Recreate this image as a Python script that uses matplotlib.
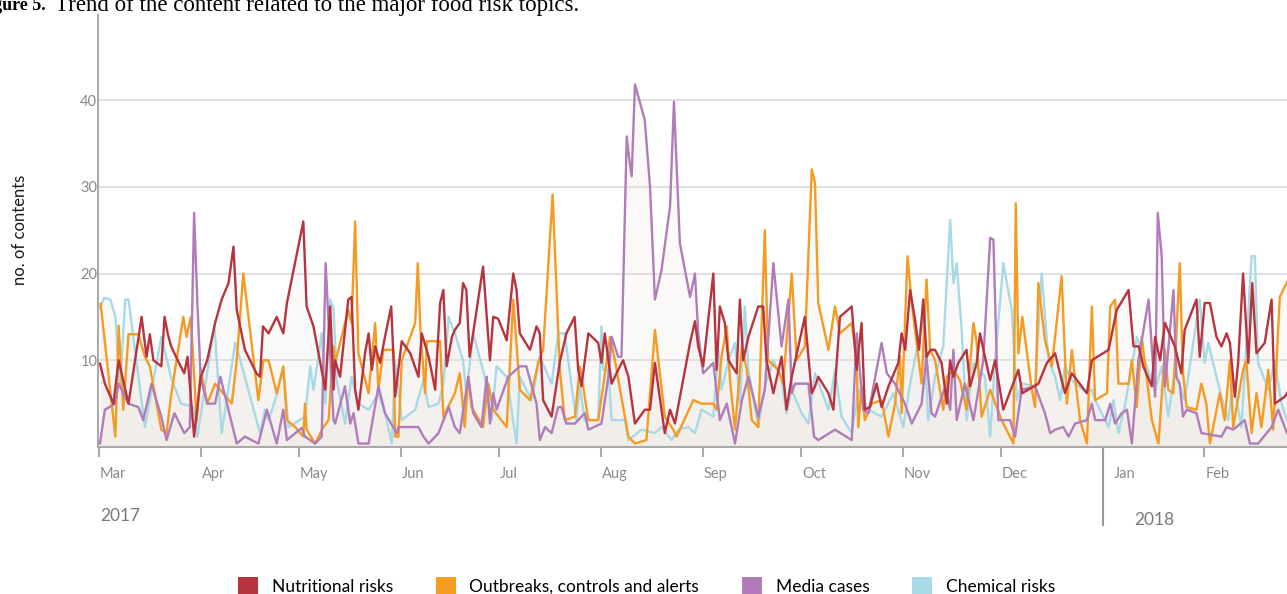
import numpy as np
import pandas as pd
import matplotlib
matplotlib.use("Agg")
import matplotlib.pyplot as plt
import matplotlib.dates as mdates
import matplotlib.transforms as mtransforms
from matplotlib.patches import Patch

plt.rcParams['font.family'] = ['Lato', 'DejaVu Sans']

# days since 2017-03-01
nutr_days = [0.3, 1.8, 4.4, 6, 9, 13, 14.5, 15.5, 16.6, 19, 20, 21, 22, 24, 26, 27, 29, 31, 33,
             35.4, 37.4, 39.5, 41, 42, 44.5, 48, 49.1, 50, 51.7, 54.2, 56.2, 57.3, 62.3, 63.3, 65.4,
             69, 70.5, 71.5, 72, 73.5, 76, 77, 78.1, 79.1, 81.1, 82.2, 83.2, 84.2, 85.7, 87.2, 89.1,
             90.3, 92.3, 94.9, 97.4, 98.4, 100.5, 102.5, 104, 105, 106, 107.6, 108.5, 110, 111, 112,
             113, 117.1, 119.2, 120.2, 121.7, 124.3, 126.3, 127.3, 128.3, 131.4, 133.4, 134.4, 135.4,
             138, 140.5, 142.5, 145, 146.1, 147.1, 149.2, 152.2, 153.2, 154.2, 156.3, 158.3, 159.8,
             161.4, 163.4, 166.4, 168, 169.5, 172.5, 174.1, 175.6, 180.2, 181.7, 182.7, 184.2, 187.3,
             188.3, 189.3, 190.8, 191.9, 194.4, 195.4, 196.4, 198, 201, 202.5, 203.5, 205.6, 208.1,
             209.6, 211.2, 215.2, 217.3, 218.3, 219.3, 222.4, 223.9, 225.9, 229.5, 231, 232.5, 233.5,
             235, 237.1, 238.6, 240.7, 243.7, 244.7, 245.8, 247.3, 248.8, 250, 251.3, 252.3, 253.5,
             254.9, 256.9, 258.5, 259.5, 260.5, 262, 264.5, 265.6, 267.6, 268.6, 270.1, 271.7, 273.2,
             275.7, 280.3, 281.5, 286.4, 289, 291.5, 294.5, 296.6, 301.2, 302.7, 307.8, 310.3, 313.9,
             315.4, 317, 318.4, 321, 322, 323.5, 325, 328, 330, 331, 334.6, 335.6, 337.1, 338.7, 340.7,
             342.2, 343.8, 344.8, 346.3, 347.3, 348.8, 350.4, 351.6, 352.9, 355.4, 357.5, 358.5, 361.5,
             362.2]
nutr_vals = [9.6, 7.3, 5, 10, 5, 15, 10.4, 13, 10, 9.3, 15, 13, 11.6, 10, 8.5, 10.4, 1.2, 8, 10,
             14.3, 17, 18.9, 23.1, 15.8, 11.2, 8.5, 8.1, 13.9, 13.1, 15, 13.1, 16.6, 26, 16.2, 13.9,
             6.6, 16.2, 6.6, 10, 8.1, 17, 17.3, 6.6, 4.3, 10.8, 13.1, 8.9, 11.6, 9.7, 12.7, 16.2,
             5.8, 12.2, 10.8, 8.1, 13.1, 10.4, 6.6, 16.6, 18.1, 9.3, 12.7, 13.5, 14.3, 18.9, 18.1,
             10.4, 20.8, 10, 15, 14.8, 12.3, 20, 18.1, 13.1, 11.2, 13.9, 13.1, 5.4,
             3.5, 9.8, 13.1, 15, 8.9, 7, 13.1, 12, 9.7, 13.1, 7.3, 8.9, 10,
             8.1, 2.7, 4.3, 4.3, 9.7, 1.6, 4.3, 2.7, 12, 14.5, 11.6, 9.3, 20,
             8.9, 16.2, 14.3, 10, 8.5, 17, 10, 12.7, 16.2, 16.2, 10, 6.2, 10.4,
             4.3, 8.1, 15, 6.2, 7, 8.1, 6.2, 4.3, 15, 16.2, 8.9, 14.3, 4.3,
             4.6, 7.3, 4.6, 7, 9.7, 13.1, 11.2, 18.1, 14.7, 11.2, 17, 10.4, 11.2,
             11.2, 9.7, 5, 10, 8.1, 9.7, 11.2, 7, 9.7, 13.1, 10.4, 7.7, 10,
             4.3, 8.9, 6.2, 7.3, 9.7, 10.8, 6.2, 8.5, 6.2, 10, 11.2, 15.8, 18.1,
             11.6, 11.6, 9.3, 7, 12.7, 10, 14.3, 11.6, 8.5, 13.5, 17, 10.4, 16.6, 16.6, 12.7,
             11.6, 13.1, 12, 5.8, 9.7, 20, 9.7, 18.9, 10.8, 12, 17, 5, 5.8,
             6.2]

outb_days = [0.5, 5, 6, 7.4, 9, 12, 14, 15.5, 19, 20.6, 22, 25.7, 26.7, 28, 29.8, 31, 33, 35.4,
             40.5, 42, 44, 48.6, 50.1, 51.7, 54.2, 56.2, 57.3, 59.8, 62.3, 62.8, 63.3, 65.9, 68.4,
             70, 71.5, 72, 76, 77, 78.1, 79.1, 82.2, 84.2, 85.2, 86.7, 89.8, 90.3, 91.3, 92.3, 96.4,
             97.2, 98, 99.4, 100, 104, 105, 108.5, 110, 111.5, 112.6, 113.6, 117.1, 118.7, 120.2,
             124.3, 126.3, 128.3, 131.4, 133.9, 135.4, 138.3, 140.5, 142, 145.1, 146.6, 147.6, 149.2,
             152.2, 153.7, 155.8, 157.3, 161.4, 163.4, 166.9, 169.5, 172.5, 175.1, 176.1, 181.2,
             183.7, 187.3, 188.3, 189.8, 191.4, 192.4, 193.9, 196, 197.5, 199, 201, 203, 204, 207.1,
             208.6, 211.2, 212.7, 215.2, 217.3, 218.3, 219.3, 222.4, 224.4, 225.9, 229.5, 231, 231.5,
             232.5, 233.5, 235.6, 238.6, 240.7, 242.7, 244.2, 244.7, 246.5, 247.8, 250.8, 252.3,
             253.4, 254.9, 257.4, 258.5, 260.5, 262.5, 264.5, 266.6, 267.6, 269.1, 271.7, 275.2,
             278.8, 279.5, 280.3, 281.5, 284.4, 285.4, 286.4, 288.4, 290.5, 293.5, 295.1, 296.6,
             299.1, 301.2, 302.7, 303.7, 307.3, 308.3, 309.8, 310.8, 313.9, 314.9, 316.4, 317.9, 321,
             323, 325, 326, 327.5, 328.3, 329.5, 330.5, 331.6, 334.6, 336.1, 337.6, 338.7, 341.7,
             343.2, 344.8, 345.8, 348.8, 349.8, 351.4, 352.9, 354.4, 356.5, 358, 360, 362.2]
outb_vals = [16.5, 1.2, 14, 4.3, 13, 13, 10.4, 9.3, 2, 1.6, 6, 15, 12.7, 15, 3, 9, 5, 7.3,
             5, 10, 20, 5.4, 10, 10, 6.2, 9.3, 3.1, 2.3, 1.2, 5, 2, 0.4, 2.3,
             3.1, 11.6, 9.7, 15.8, 14.3, 26, 10.8, 6.2, 14.3, 6.6, 11.2, 11.2, 1.2, 1.2, 10, 14.3,
             21.2, 13.5, 6.2, 12.2, 12.2, 3.5, 6.2, 8.5, 2.3, 8.1, 4.6, 2.3, 7.3, 4.3,
             2.3, 17, 6.6, 5.4, 9.7, 11.2, 29.1, 8.9, 3.1, 3.5, 9.3, 7, 3.1,
             3.1, 7, 12.7, 10, 1.2, 0.4, 0.8, 13.5, 3.5, 2, 1.2, 5.4,
             5, 5, 4.3, 10.4, 13.9, 7.7, 2, 11.6, 8.9, 3.1, 2.3, 25, 10, 8.9,
             7.3, 20, 10, 11.6, 32, 30.4, 16.6, 11.2, 16.2, 13.1, 14.3, 10, 2.3,
             7, 3.1, 5, 5.4, 1.2, 5, 10.4, 3.9, 22, 16.6, 7.3, 19.3,
             11.2, 10, 4.3, 8.1, 8.9, 7.7, 4.3, 14.3, 12, 3.5, 6.6, 3.1,
             0.4, 28.1, 10.8, 15, 6.6, 4.6, 18.9, 12.3, 9.3, 19.7, 5, 11.2,
             3.1, 0.4, 16.2, 5.4, 6.2, 16.2, 17, 7.3, 7.3, 10, 4.6, 12.7, 3.1,
             0.4, 11.2, 6.6, 6.2, 11.6, 21.2, 8.5, 4.6, 4.3, 7.3, 5, 0.4, 6.2,
             3.1, 10, 2.3, 8.9, 10, 1.6, 6.2, 2.3, 8.9, 2, 17.3, 19]

media_days = [0.3, 1.8, 4.9, 6, 9, 12, 13.5, 16, 19, 20.6, 23, 26, 27.7, 29, 30, 31, 33, 35.4,
              37, 42, 44.5, 48.6, 51.2, 54.2, 56.2, 57.3, 61.8, 62.8, 65.9, 67.9, 69.1, 70, 71.5,
              72, 75, 76.6, 77.6, 79.1, 82.2, 85.2, 87.2, 90.8, 91.3, 97.4, 98.9, 100.5, 103.5,
              106.6, 108.5, 110, 112.6, 114.1, 116.6, 118.2, 119.2, 120.2, 121.2, 124.8, 128.3,
              130.3, 133.4, 134.4, 136, 138, 140, 141, 142.5, 145.1, 148.1, 149.2, 153.2, 155.3,
              156.3, 158.3, 159.3, 160.9, 161.7, 162.4, 163.4, 166.4, 168, 169.5, 171.5, 174.1,
              175.3, 177.1, 180.2, 181.7, 182.7, 184.2, 187.3, 189.3, 191.4, 193.9, 196, 198, 201,
              203, 205.6, 208.1, 210.2, 211.2, 212.2, 216.3, 218, 219.3, 224.4, 229.5, 231, 233,
              234.6, 238.6, 240.2, 242.7, 245.7, 247.8, 250.8, 252.3, 253.8, 254.9, 258, 259.5,
              260.5, 261.5, 264, 266.6, 269.6, 271.7, 272.7, 274.2, 277.8, 279.3, 281.3, 285.4,
              288.4, 290, 291.5, 294, 295.6, 297.6, 301.2, 302.7, 303.7, 306.8, 308.3, 309.8,
              311.8, 313.4, 314.9, 316.9, 320, 322, 322.8, 324, 325, 327.6, 328.5, 329.5, 330.5,
              331.6, 334.6, 336.1, 342.2, 343.8, 345.8, 349.3, 350.9, 353.4, 357.5, 359.5, 362.2]
media_vals = [0.4, 4.3, 5, 7.3, 5, 4.6, 3.1, 7.3, 3.5, 0.8, 3.9, 1.6, 2.3, 27, 16.6, 8, 5, 5,
              8.1, 0.4, 1.2, 0.4, 4.3, 0.4, 4.3, 0.8, 2.2, 1.2, 0.4, 1.2, 21.2, 14.3, 3.1,
              2.7, 7, 2.7, 3.9, 0.4, 0.4, 7, 3.9, 1.6, 2.3, 2.3, 1.2, 0.4, 1.6,
              4.6, 2.3, 1.6, 8.1, 3.9, 2.3, 8.1, 2.7, 6.2, 4.3, 8.1, 9.3,
              9.3, 5, 0.8, 2.3, 1.6, 4.6, 4.6, 2.7, 2.7, 3.9, 2, 2.7, 8.1,
              12.7, 10.4, 10.4, 35.8, 33.1, 31.2, 41.8, 37.7, 30, 17, 20.4, 27.7,
              39.8, 23.5, 17.3, 20, 13.1, 8.5, 9.7, 3.1, 5, 0.4, 5.4, 8.1, 3.5,
              6.6, 21.2, 11.6, 17, 6.2, 7.3, 7.3, 1.2, 0.8, 2, 0.8, 13.1, 4.3,
              3.9, 12, 8.5, 7.3, 5, 2.7, 5, 10.4, 3.9, 3.5, 7, 4.3,
              11.2, 3.1, 7.3, 3.1, 10, 24.1, 23.9, 3.1, 3.1, 1.2, 6.6, 7,
              3.9, 1.6, 2, 2.3, 1.2, 2.7, 3.1, 5, 3.1, 3.1, 5, 2.7,
              3.9, 4.3, 0.4, 10, 17, 5.8, 27, 22, 7, 18.1, 8, 7.3, 3.5,
              4.3, 3.9, 1.6, 1.2, 2.3, 2, 3.1, 0.4, 0.4, 2.3, 4.3, 1.6]

chem_days = [0.3, 1.5, 3.5, 5, 6.4, 8, 9, 14, 19, 22, 25, 29, 30, 35.2, 37.4, 41.5, 42.5, 49.1,
             50.6, 51.7, 53.7, 56.2, 57.8, 62.8, 64.4, 65.4, 67.9, 69, 70.5, 71.5, 72.5, 75, 77,
             79.1, 82.2, 85.2, 87.2, 89.3, 90.3, 92.3, 96.4, 98.9, 100.5, 103.5, 105, 106.6, 108.5,
             111, 112, 114.1, 117.6, 119.7, 121.2, 124.3, 127.3, 128.3, 131.9, 134.4, 138, 140, 142,
             144, 145.5, 146.6, 148.1, 152.2, 153.2, 153.7, 155.3, 156.3, 160.4, 161.4, 165.4,
             169.5, 171.5, 174.6, 176.6, 179.7, 181.7, 183.7, 187.3, 188.8, 189.8, 191.9, 193.9,
             195.4, 196.9, 198, 201, 203, 205.6, 208.1, 209.6, 211.2, 214.2, 216.3, 218.3, 222.4,
             224.4, 226.4, 229.5, 231.5, 234.6, 238.6, 242.2, 245.2, 247.3, 251.3, 252.8, 254.9,
             257.4, 259.5, 260.5, 261.5, 263, 264.5, 266.6, 270.1, 271.7, 273.2, 275.7, 278.3,
             279.8, 281.3, 285.4, 287.4, 289.5, 291.5, 293, 294.5, 296.6, 301.2, 302.7, 303.7,
             307.8, 309.3, 310.8, 312.9, 316.4, 319.4, 322, 324, 326, 328, 331, 335.6, 337.1,
             338.2, 342.2, 344.3, 345.8, 348.3, 351.4, 352.4, 353.4, 356.5, 358.5, 360.5, 362.2]
chem_vals = [16, 17.2, 17, 15, 7, 17, 17, 2.3, 12.7, 8, 5, 4.6, 1.2, 14, 1.6, 12, 10.8, 1.6,
             4.3, 3.1, 5.4, 8.9, 2.3, 3.5, 9.3, 6.6, 13.1, 5, 17, 16, 7.7, 2.7, 8.1,
             5, 4.3, 6.2, 3.9, 0.4, 10, 3.1, 4.3, 7.7, 4.6, 5, 7.3, 15, 13.1,
             10, 6.2, 13.1, 8.1, 3.1, 9.3, 8.1, 0.4, 8.1, 5.4, 10.4, 7.3, 13.1, 13.1,
             7.3, 3.1, 7, 3.1, 3.1, 13.9, 8.9, 8.9, 3.1, 3.1, 0.8, 2,
             1.6, 2.3, 0.8, 2, 2.3, 1.6, 4.3, 3.5, 11.2, 6.6, 10, 12,
             5, 16.2, 8.9, 2.3, 7, 10, 7.7, 3.9, 6.6, 3.9, 2.7, 8.5, 4.3,
             8.9, 3.5, 1.6, 6.6, 4.3, 3.5, 6.2, 2.3, 7.3, 15, 3.1, 8.1,
             11.6, 26.2, 18.9, 21.2, 13.5, 3.1, 9.7, 8.1, 1.2, 10, 21.2, 15.8,
             5.4, 7.3, 7, 20, 10, 8.1, 5.4, 9.3, 7.7, 6.2, 6.6, 5.4,
             2.3, 5.4, 1.6, 5, 12.7, 9.3, 6.6, 9.3, 3.5, 8.9, 5.4, 17, 9.7,
             12, 5.8, 3.1, 7.7, 2.3, 22, 22, 9.7, 6.6, 10, 5, 3.1]

series_names = ['Nutritional risks', 'Outbreaks, controls and alerts', 'Media cases', 'Chemical risks']
series_colors = ['#b7343f', '#f59b22', '#b07cb9', '#a8d9e7']
month_labels = ['Mar', 'Apr', 'May', 'Jun', 'Jul', 'Aug', 'Sep', 'Oct', 'Nov', 'Dec', 'Jan', 'Feb']

base = mdates.date2num(np.datetime64('2017-03-01'))
series = [(nutr_days, nutr_vals), (outb_days, outb_vals), (media_days, media_vals), (chem_days, chem_vals)]

fig = plt.figure(figsize=(12.87, 5.94), dpi=100)
ax = fig.add_axes([98 / 1287, 1 - 447 / 594, 1 - 98 / 1287, 432 / 594])

# faint fill under each series
for days, vals in series:
    x = base + np.array(days)
    ax.fill_between(x, 0, vals, color='#e9e2dc', alpha=0.2, lw=0)

draw_order = [3, 1, 2, 0]
for i in draw_order:
    days, vals = series[i]
    x = base + np.array(days)
    ax.plot(x, vals, color=series_colors[i], lw=1.7, solid_joinstyle='round', zorder=3)

ax.set_xlim(base - 0.3, base + 362.2)
ax.set_ylim(0, 49.8)
ax.set_yticks([10, 20, 30, 40])
ax.tick_params(axis='y', length=0, labelsize=10.5, labelcolor='#8a8a8a', pad=0.5)
ax.yaxis.grid(True, color='#dddddd', lw=1.3)
ax.set_axisbelow(True)

for s in ['top', 'right']:
    ax.spines[s].set_visible(False)
ax.spines['left'].set_color('#aaaaaa')
ax.spines['left'].set_linewidth(1.5)
ax.spines['bottom'].set_color('#aaaaaa')
ax.spines['bottom'].set_linewidth(1.5)

month_starts = pd.date_range('2017-03-01', '2018-02-01', freq='MS')
ax.set_xticks(mdates.date2num(month_starts.to_numpy()))
ax.set_xticklabels([])
ax.tick_params(axis='x', length=7, width=1.5, color='#aaaaaa')

trans = mtransforms.blended_transform_factory(ax.transData, ax.transAxes)
for d, lab in zip(month_starts, month_labels):
    xpos = mdates.date2num(d.to_datetime64())
    off = mtransforms.ScaledTranslation((11 if lab == 'Jan' else 1) / 100, 0, fig.dpi_scale_trans)
    ax.text(xpos, -0.0635, lab, transform=trans + off, ha='left', va='center',
            fontsize=10.5, color='#8a8a8a')

# year divider
jan = mdates.date2num(np.datetime64('2018-01-01'))
ax.plot([jan, jan], [0, -78 / 432], transform=trans, color='#9a9a9a', lw=1.5, clip_on=False)

fig.text(100 / 1287, 1 - 516 / 594, '2017', ha='left', va='center', fontsize=12.5, color='#7a7a7a')
fig.text(1134 / 1287, 1 - 520 / 594, '2018', ha='left', va='center', fontsize=12.5, color='#7a7a7a')

fig.text(20 / 1287, 1 - 230 / 594, 'no. of contents', rotation=90, ha='center', va='center',
         fontsize=12, color='#1a1a1a')

fig.text(46 / 1287, 1 - 10.5 / 594, 'Figure 5.', fontweight='bold', family='Liberation Serif',
         fontsize=13, ha='right', va='baseline')
fig.text(55 / 1287, 1 - 10.5 / 594, 'Trend of the content related to the major food risk topics.',
         family='Liberation Serif', fontsize=16.5, ha='left', va='baseline')

handles = [Patch(facecolor=c, edgecolor='none') for c in series_colors]
fig.legend(handles, series_names, loc='center left', bbox_to_anchor=(238 / 1287, 1 - 586 / 594),
           ncol=4, frameon=False, fontsize=12.5, handlelength=1.15, handleheight=1.15,
           handletextpad=0.8, columnspacing=2.45, borderpad=0, borderaxespad=0)

fig.savefig('out.png', dpi=100)
